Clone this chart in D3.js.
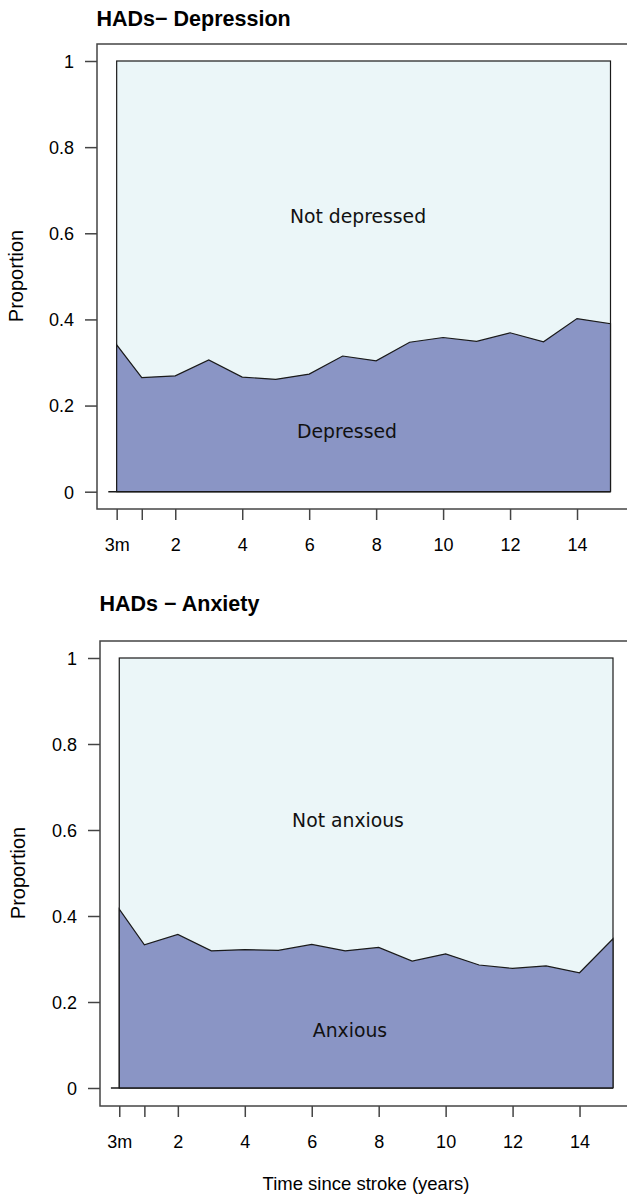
<!DOCTYPE html>
<html>
<head>
<meta charset="utf-8">
<script src="https://cdn.jsdelivr.net/npm/d3@7"></script>
<style>
  html, body { margin: 0; padding: 0; background: #ffffff; }
  svg { display: block; }
</style>
</head>
<body>
<script>
// ---- Data ----
const times = [0.25, 1, 2, 3, 4, 5, 6, 7, 8, 9, 10, 11, 12, 13, 14, 15];
const depressed = [0.341, 0.265, 0.269, 0.306, 0.266, 0.261, 0.273, 0.315, 0.304, 0.347, 0.358, 0.349, 0.369, 0.348, 0.402, 0.390];
const anxious = [0.416, 0.333, 0.357, 0.319, 0.322, 0.320, 0.334, 0.319, 0.327, 0.295, 0.312, 0.286, 0.278, 0.284, 0.268, 0.347];
const xTickValues = [0.25, 1, 2, 4, 6, 8, 10, 12, 14];
const xTickLabels = ["3m", "", "2", "4", "6", "8", "10", "12", "14"];
const yTickValues = [0, 0.2, 0.4, 0.6, 0.8, 1];
const yTickLabels = ["0", "0.2", "0.4", "0.6", "0.8", "1"];
const panelTitles = ["HADs\u2212 Depression", "HADs \u2212 Anxiety"];
const lowLabels = ["Depressed", "Anxious"];
const highLabels = ["Not depressed", "Not anxious"];
const xTitle = "Time since stroke (years)";
const yTitle = "Proportion";

const W = 627, H = 1195;
const svg = d3.select("body").append("svg").attr("width", W).attr("height", H);

const sansR = "'Liberation Sans', Arial, Helvetica, sans-serif";
const sansD = "'DejaVu Sans', sans-serif";
const lightFill = "#ebf6f8";
const darkFill = "#8a95c5";
const stroke = "#1a1a1a";
const axisCol = "#444444";

const panels = [
  { values: depressed, x0: 108.3, x15: 610.5, y0: 491.7, y1: 61, boxL: 97, boxT: 44, boxB: 509,
    titleY: 26, highPos: [358, 223], lowPos: [347, 438], tickLabelY: 551, yTitleCY: 276, yTitleX: 23 },
  { values: anxious, x0: 110.9, x15: 613, y0: 1088, y1: 658, boxL: 100, boxT: 641, boxB: 1106,
    titleY: 611, highPos: [348, 827], lowPos: [350, 1037], tickLabelY: 1148, yTitleCY: 873, yTitleX: 25 }
];

panels.forEach((p, i) => {
  const x = d3.scaleLinear().domain([0, 15]).range([p.x0, p.x15]);
  const y = d3.scaleLinear().domain([0, 1]).range([p.y0, p.y1]);
  const g = svg.append("g");

  // outer box (extends beyond right edge)
  g.append("rect")
    .attr("x", p.boxL).attr("y", p.boxT)
    .attr("width", 700).attr("height", p.boxB - p.boxT)
    .attr("fill", "none").attr("stroke", axisCol).attr("stroke-width", 1.5);

  const first = times[0], last = times[times.length - 1];

  // upper (not) region
  g.append("rect")
    .attr("x", x(first)).attr("y", y(1))
    .attr("width", x(last) - x(first)).attr("height", y(0) - y(1))
    .attr("fill", lightFill).attr("stroke", stroke).attr("stroke-width", 1.2);

  // lower region
  const pts = times.map((t, k) => [t, p.values[k]]);
  const area = d3.area().x(d => x(d[0])).y0(y(0)).y1(d => y(d[1]));
  g.append("path").datum(pts).attr("d", area)
    .attr("fill", darkFill).attr("stroke", "none");
  const line = d3.line().x(d => x(d[0])).y(d => y(d[1]));
  const outline = [[first, 0]].concat(pts, [[last, 0]]);
  g.append("path").datum(outline).attr("d", line)
    .attr("fill", "none").attr("stroke", stroke).attr("stroke-width", 1.2);
  // baseline
  g.append("line")
    .attr("x1", x(0)).attr("x2", x(last)).attr("y1", y(0)).attr("y2", y(0))
    .attr("stroke", stroke).attr("stroke-width", 1.5);

  // y axis
  const yAxis = d3.axisLeft(y).tickValues(yTickValues)
    .tickFormat((d, k) => yTickLabels[k]).tickSize(12).tickPadding(11);
  const ya = g.append("g").attr("transform", `translate(${p.boxL},0)`).call(yAxis);
  ya.select(".domain").remove();
  ya.selectAll(".tick line").attr("stroke", axisCol).attr("stroke-width", 1.5);
  ya.selectAll(".tick text").attr("font-family", sansR).attr("font-size", 18)
    .attr("fill", "#000").attr("dy", "0.35em");

  // x axis
  const xAxis = d3.axisBottom(x).tickValues(xTickValues)
    .tickFormat((d, k) => xTickLabels[k]).tickSize(11).tickPadding(0);
  const xa = g.append("g").attr("transform", `translate(0,${p.boxB})`).call(xAxis);
  xa.select(".domain").remove();
  xa.selectAll(".tick line").attr("stroke", axisCol).attr("stroke-width", 1.5);
  xa.selectAll(".tick text").attr("font-family", sansR).attr("font-size", 18)
    .attr("fill", "#000").attr("y", p.tickLabelY - p.boxB).attr("dy", 0);

  // title
  g.append("text").attr("x", p.boxL - 0.5).attr("y", p.titleY)
    .attr("font-family", sansR).attr("font-weight", "bold").attr("font-size", 21.5)
    .attr("fill", "#000").text(panelTitles[i]);

  // region labels
  g.append("text").attr("x", p.highPos[0]).attr("y", p.highPos[1])
    .attr("text-anchor", "middle").attr("font-family", sansD).attr("font-size", 18.8)
    .attr("fill", "#111").text(highLabels[i]);
  g.append("text").attr("x", p.lowPos[0]).attr("y", p.lowPos[1])
    .attr("text-anchor", "middle").attr("font-family", sansD).attr("font-size", 18.8)
    .attr("fill", "#111").text(lowLabels[i]);

  // y title
  g.append("text")
    .attr("transform", `translate(${p.yTitleX},${p.yTitleCY}) rotate(-90)`)
    .attr("text-anchor", "middle").attr("font-family", sansR).attr("font-size", 20)
    .attr("fill", "#000").text(yTitle);
});

svg.append("text").attr("x", 366).attr("y", 1190)
  .attr("text-anchor", "middle").attr("font-family", sansR).attr("font-size", 18.5)
  .attr("fill", "#000").text(xTitle);
</script>
</body>
</html>
